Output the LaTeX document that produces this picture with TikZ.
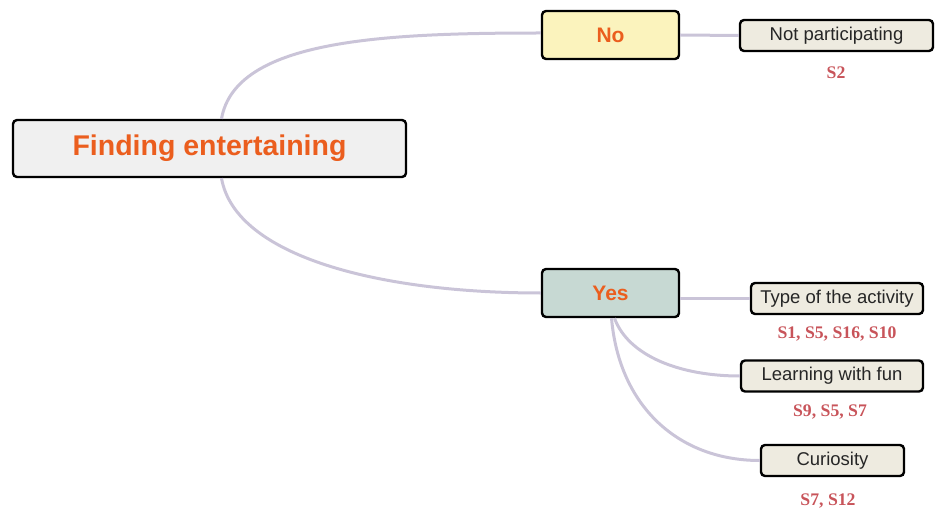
\documentclass[tikz,border=0pt]{standalone}
\usepackage{fontspec}
\setmainfont{Liberation Serif}
\setsansfont{Liberation Sans}
\definecolor{rootfill}{HTML}{F0F0F0}
\definecolor{nofill}{HTML}{FBF3BD}
\definecolor{yesfill}{HTML}{C7D9D3}
\definecolor{leaffill}{HTML}{EEEBE0}
\definecolor{headtext}{HTML}{EB5E1E}
\definecolor{srctext}{HTML}{C8545A}
\definecolor{branch}{HTML}{CAC4D8}
\begin{document}
\begin{tikzpicture}[x=1pt,y=-1pt,
    box/.style={draw=black,line width=2.4pt,rounded corners=4pt,inner sep=0pt,font=\sffamily},
    head/.style={box,text=headtext,font=\sffamily\bfseries\fontsize{21}{23}\selectfont,minimum width=137,minimum height=48},
    leaf/.style={box,fill=leaffill,text=black!85,font=\sffamily\fontsize{18.5}{20}\selectfont,minimum height=31},
    src/.style={text=srctext,font=\rmfamily\bfseries\fontsize{17.7}{19}\selectfont},
    link/.style={draw=branch,line width=3pt}]
\useasboundingbox (0,0) rectangle (936,513);

\node[box,fill=rootfill,text=headtext,font=\sffamily\bfseries\fontsize{28.5}{30}\selectfont,minimum width=393,minimum height=57] (root) at (209.5,148.5) {Finding entertaining};
\node[head,fill=nofill] (no) at (610.5,35) {No};
\node[head,fill=yesfill] (yes) at (610.5,293) {Yes};

\node[leaf,minimum width=193] (notpart) at (836.5,35.5) {Not participating};
\node[leaf,minimum width=172] (type) at (837,298.5) {Type of the activity};
\node[leaf,minimum width=182] (learn) at (832,376) {Learning with fun};
\node[leaf,minimum width=143] (curious) at (832.5,460.5) {Curiosity};

\node[src] (s2) at (836,73) {S2};
\node[src] (stype) at (837,334) {S1, S5, S16, S10};
\node[src] (slearn) at (830,412) {S9, S5, S7};
\node[src] (scurious) at (828,501) {S7, S12};

% branches (y axis points down, so angles are mirrored)
\draw[link] ([xshift=12]root.north) .. controls +(-80:80) and +(180:160) .. ([yshift=2]no.west);
\draw[link] ([xshift=12]root.south) .. controls +(80:80) and +(180:160) .. (yes.west);
\draw[link] (no.east) -- (notpart.west);
\draw[link] (type.west -| yes.east) -- (type.west);
\draw[link] ([xshift=4]yes.south) .. controls +(70:40) and +(180:60) .. (learn.west);
\draw[link] ([xshift=1]yes.south) .. controls +(85:90) and +(180:80) .. (curious.west);

\end{tikzpicture}
\end{document}
